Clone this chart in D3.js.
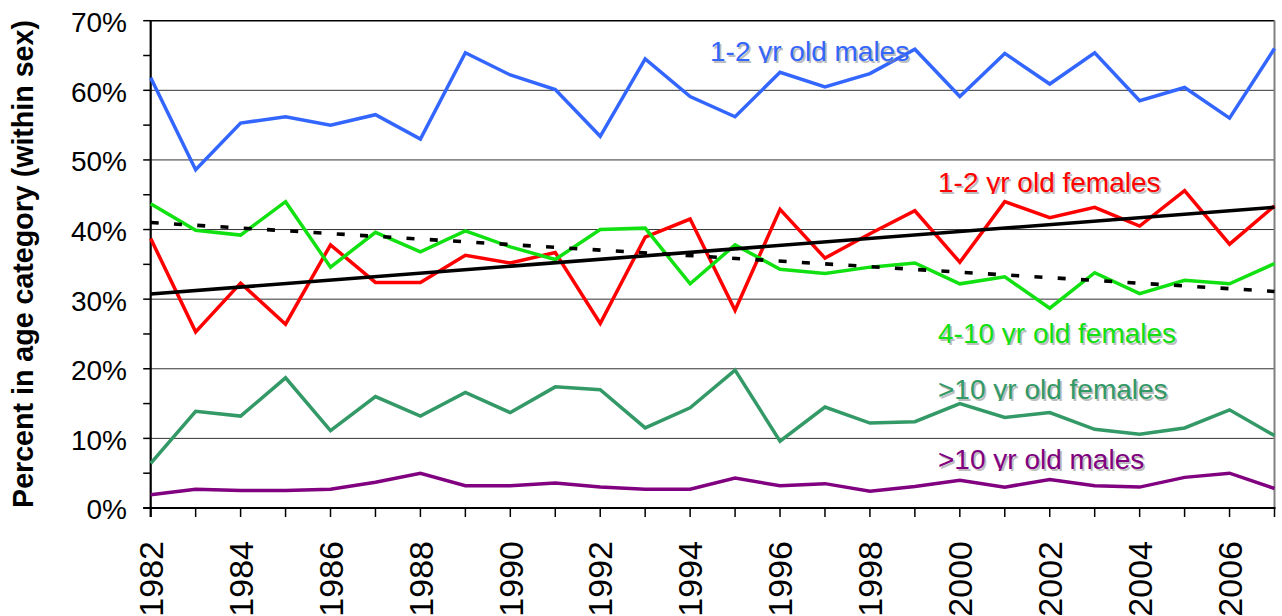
<!DOCTYPE html>
<html lang="en">

<head>
  <meta charset="UTF-8">
  <title>Percent in age category</title>
  <script src="https://d3js.org/d3.v7.min.js"></script>
  <style>
    body {
      margin: 0;
      background: #fff;
    }

    text {
      font-family: "Liberation Sans", Arial, Helvetica, sans-serif;
      fill: #000;
    }
  </style>
</head>

<body>
  <script>
    // data (percent of age category within sex)
    var years = d3.range(1982, 2008);

    var males12 = [61.8, 48.6, 55.3, 56.2, 55.0, 56.5, 53.0, 65.4, 62.2, 60.1, 53.4, 64.5, 59.1,
      56.2, 62.6, 60.5, 62.4, 65.9, 59.1, 65.3, 60.9, 65.4, 58.5, 60.4, 56.0, 66.0];

    var females12 = [38.7, 25.3, 32.3, 26.4, 37.8, 32.4, 32.4, 36.3, 35.2, 36.7, 26.5, 38.9, 41.5,
      28.4, 42.9, 35.9, 39.4, 42.7, 35.3, 44.0, 41.7, 43.2, 40.5, 45.6, 37.9, 43.4];

    var females410 = [43.7, 39.9, 39.2, 44.0, 34.6, 39.6, 36.8, 39.8, 37.5, 35.7, 40.0, 40.2, 32.2,
      37.8, 34.3, 33.7, 34.6, 35.2, 32.2, 33.2, 28.7, 33.8, 30.8, 32.7, 32.2, 35.1];

    var females10plus = [6.4, 13.9, 13.2, 18.7, 11.1, 16.0, 13.2, 16.6, 13.7, 17.4, 17.0, 11.5, 14.4,
      19.8, 9.6, 14.5, 12.2, 12.4, 15.0, 13.0, 13.7, 11.3, 10.6, 11.5, 14.1, 10.4];

    var males10plus = [1.9, 2.7, 2.5, 2.5, 2.7, 3.7, 5.0, 3.2, 3.2, 3.6, 3.0, 2.7, 2.7,
      4.3, 3.2, 3.5, 2.4, 3.1, 4.0, 3.0, 4.1, 3.2, 3.0, 4.4, 5.0, 2.8];

    var seriesNames = ["1-2 yr old males", "1-2 yr old females", "4-10 yr old females",
      ">10 yr old females", ">10 yr old males"];

    var yTicks = [0, 10, 20, 30, 40, 50, 60, 70];
    var xTickYears = d3.range(1982, 2008, 2);

    var series = [
      { name: seriesNames[0], values: males12, color: "#3366ff", lx: 710, ly: 61 },
      { name: seriesNames[1], values: females12, color: "#ff0000", lx: 938, ly: 192 },
      { name: seriesNames[2], values: females410, color: "#11e011", lx: 938, ly: 343 },
      { name: seriesNames[3], values: females10plus, color: "#339966", lx: 938, ly: 399 },
      { name: seriesNames[4], values: males10plus, color: "#800080", lx: 938, ly: 469 }
    ];

    var width = 1282, height = 616;
    var plotLeft = 150.7, plotRight = 1274.5, plotTop = 20.7, plotBottom = 508;

    var svg = d3.select("body").append("svg")
      .attr("width", width)
      .attr("height", height);

    var x = d3.scaleLinear().domain([1982, 2007]).range([plotLeft, plotRight]);
    var y = d3.scaleLinear().domain([0, 70]).range([plotBottom, plotTop]);

    // gridlines
    svg.append("g")
      .selectAll("line")
      .data(yTicks.filter(function (d) { return d > 0; }))
      .enter().append("line")
      .attr("x1", plotLeft).attr("x2", plotRight)
      .attr("y1", y).attr("y2", y)
      .attr("stroke", "#000")
      .attr("stroke-width", function (d) { return d == 70 ? 1.6 : 1; })
      .attr("opacity", function (d) { return d == 70 ? 1 : 0.8; });

    // right border of plot area
    svg.append("line")
      .attr("x1", plotRight).attr("x2", plotRight)
      .attr("y1", plotTop).attr("y2", plotBottom)
      .attr("stroke", "#808080")
      .attr("stroke-width", 2);

    // y ticks, major and minor
    svg.append("g")
      .selectAll("line")
      .data(d3.range(0, 71, 5))
      .enter().append("line")
      .attr("x1", plotLeft - 7.5).attr("x2", plotLeft)
      .attr("y1", y).attr("y2", y)
      .attr("stroke", "#000")
      .attr("stroke-width", 1.5);

    svg.append("g")
      .selectAll("text")
      .data(yTicks)
      .enter().append("text")
      .attr("x", 127)
      .attr("y", y)
      .attr("dy", "0.41em")
      .attr("text-anchor", "end")
      .style("font-size", "28px")
      .text(function (d) { return d + "%"; });

    // x ticks
    svg.append("g")
      .selectAll("line")
      .data(years)
      .enter().append("line")
      .attr("x1", x).attr("x2", x)
      .attr("y1", plotBottom).attr("y2", plotBottom + 9)
      .attr("stroke", "#000")
      .attr("stroke-width", 1.5);

    svg.append("g")
      .selectAll("text")
      .data(xTickYears)
      .enter().append("text")
      .attr("transform", function (d) { return "translate(" + x(d) + "," + 541 + ")rotate(-90)"; })
      .attr("dy", "0.36em")
      .attr("text-anchor", "end")
      .style("font-size", "34px")
      .text(function (d) { return d; });

    // axes lines
    svg.append("line")
      .attr("x1", plotLeft).attr("x2", plotLeft)
      .attr("y1", plotTop - 0.8).attr("y2", plotBottom + 9)
      .attr("stroke", "#000").attr("stroke-width", 2.2);
    svg.append("line")
      .attr("x1", plotLeft - 7.5).attr("x2", plotRight + 1)
      .attr("y1", plotBottom).attr("y2", plotBottom)
      .attr("stroke", "#000").attr("stroke-width", 2.2);

    // y axis title
    svg.append("text")
      .attr("transform", "translate(23," + 264 + ")rotate(-90)")
      .attr("dy", "0.36em")
      .attr("text-anchor", "middle")
      .style("font-size", "28.6px")
      .style("font-weight", "bold")
      .text("Percent in age category (within sex)");

    // series lines
    var line = d3.line()
      .x(function (d, i) { return x(years[i]); })
      .y(function (d) { return y(d); });

    svg.append("g")
      .selectAll("path")
      .data(series)
      .enter().append("path")
      .attr("d", function (d) { return line(d.values); })
      .attr("fill", "none")
      .attr("stroke", function (d) { return d.color; })
      .attr("stroke-width", 3.5)
      .attr("stroke-linejoin", "miter");

    // linear trends for the 1-2 yr and 4-10 yr females
    function linReg(xs, ys) {
      var mx = d3.mean(xs), my = d3.mean(ys);
      var sxy = d3.sum(xs, function (v, i) { return (v - mx) * (ys[i] - my); });
      var sxx = d3.sum(xs, function (v) { return (v - mx) * (v - mx); });
      var b = sxy / sxx;
      return function (v) { return my + b * (v - mx); };
    }

    var trends = [
      { f: linReg(years, females12), dash: null },
      { f: linReg(years, females410), dash: "8,15.3" }
    ];

    svg.append("g")
      .selectAll("line")
      .data(trends)
      .enter().append("line")
      .attr("x1", x(1982)).attr("x2", x(2007))
      .attr("y1", function (d) { return y(d.f(1982)); })
      .attr("y2", function (d) { return y(d.f(2007)); })
      .attr("stroke", "#000")
      .attr("stroke-width", 3.6)
      .attr("stroke-dasharray", function (d) { return d.dash; });

    // series labels (clipped just below the baseline, with soft shadow)
    var defs = svg.append("defs");
    series.forEach(function (s, i) {
      defs.append("clipPath")
        .attr("id", "clip" + i)
        .append("rect")
        .attr("x", s.lx - 5).attr("y", s.ly - 30)
        .attr("width", 300).attr("height", 32);

      var g = svg.append("g").attr("clip-path", "url(#clip" + i + ")");
      g.append("text")
        .attr("x", s.lx + 1.8).attr("y", s.ly + 1.8)
        .style("font-size", "28px")
        .style("fill", "#888")
        .style("opacity", 0.55)
        .text(s.name);
      g.append("text")
        .attr("x", s.lx).attr("y", s.ly)
        .style("font-size", "28px")
        .style("fill", s.color)
        .text(s.name);
    });
  </script>
</body>

</html>
